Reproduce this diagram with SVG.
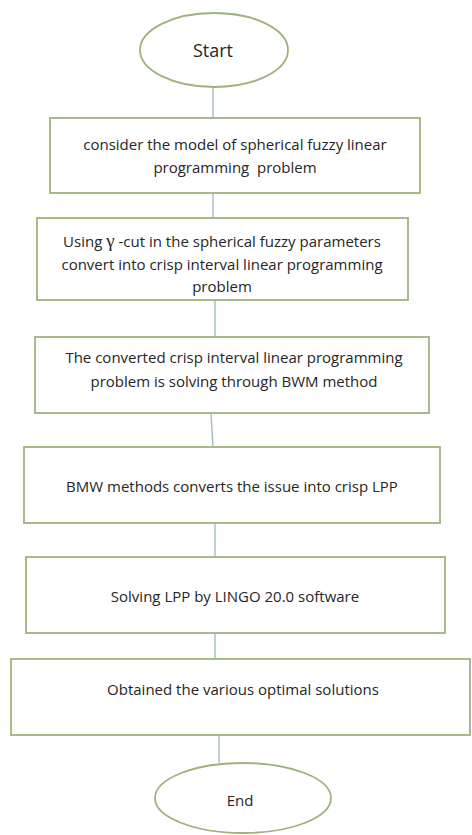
<svg xmlns="http://www.w3.org/2000/svg" width="472" height="835" viewBox="0 0 472 835">
<style>
.box{fill:#fff;stroke:#9db37e;stroke-width:1.8}
.t{font-family:"Open Sans","Noto Sans",sans-serif;font-size:15px;fill:#262626;text-anchor:middle;white-space:pre}
.g{font-family:"Liberation Serif","DejaVu Serif",serif;font-size:19px}
.c{stroke:#9fb8b4;stroke-width:1.3;fill:none}
</style>
<rect width="472" height="835" fill="#fff"/>
<g id="connectors">
<line class="c" x1="213" y1="87" x2="213" y2="118"/>
<line class="c" x1="213" y1="193" x2="213" y2="218"/>
<line class="c" x1="215" y1="300" x2="215" y2="337"/>
<line class="c" x1="211" y1="413" x2="213" y2="447"/>
<line class="c" x1="215" y1="523" x2="215" y2="557"/>
<line class="c" x1="215" y1="633" x2="215" y2="659"/>
<line class="c" x1="219" y1="735" x2="219" y2="763"/>
</g>
<g id="start">
<ellipse class="box" cx="214" cy="50" rx="74" ry="37"/>
<text class="t" x="213" y="57" style="font-size:18px">Start</text>
</g>
<g id="step1">
<rect class="box" x="50" y="118" width="370" height="75"/>
<text class="t" x="235" y="150">consider the model of spherical fuzzy linear</text>
<text class="t" x="235" y="173" xml:space="preserve">programming  problem</text>
</g>
<g id="step2">
<rect class="box" x="37" y="218" width="371" height="82"/>
<text class="t" x="222" y="247">Using <tspan class="g">γ</tspan> -cut in the spherical fuzzy parameters</text>
<text class="t" x="222" y="270">convert into crisp interval linear programming</text>
<text class="t" x="222" y="292">problem</text>
</g>
<g id="step3">
<rect class="box" x="35" y="337" width="394" height="76"/>
<text class="t" x="234" y="363">The converted crisp interval linear programming</text>
<text class="t" x="234" y="387">problem is solving through BWM method</text>
</g>
<g id="step4">
<rect class="box" x="24" y="447" width="416" height="76"/>
<text class="t" x="232" y="492">BMW methods converts the issue into crisp LPP</text>
</g>
<g id="step5">
<rect class="box" x="26" y="557" width="419" height="76"/>
<text class="t" x="235" y="602">Solving LPP by LINGO 20.0 software</text>
</g>
<g id="step6">
<rect class="box" x="11" y="659" width="459" height="76"/>
<text class="t" x="243" y="695">Obtained the various optimal solutions</text>
</g>
<g id="end">
<ellipse class="box" cx="243" cy="798" rx="88" ry="35"/>
<text class="t" x="240" y="806">End</text>
</g>
</svg>
